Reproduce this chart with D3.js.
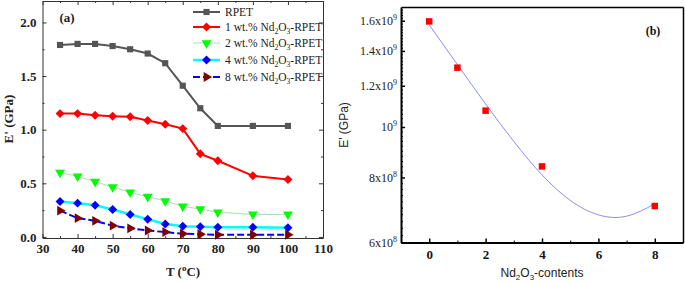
<!DOCTYPE html>
<html><head><meta charset="utf-8">
<script src="https://cdn.jsdelivr.net/npm/d3@7"></script>
<style>body{margin:0;background:#fff}svg{display:block}</style>
</head><body>
<svg id="c" width="685" height="283"></svg>
<script>
// ---- Panel (a) data ----
const temps = [35,40,45,50,55,60,65,70,75,80,90,100];
const rpet  = [1.79,1.80,1.80,1.78,1.75,1.71,1.62,1.41,1.20,1.035,1.035,1.035];
const nd1   = [1.15,1.15,1.135,1.125,1.12,1.085,1.05,1.01,0.775,0.71,0.57,0.535];
const nd2   = [0.60,0.565,0.515,0.465,0.415,0.375,0.335,0.285,0.26,0.23,0.21,0.21];
const nd4   = [0.33,0.315,0.295,0.255,0.21,0.165,0.12,0.10,0.095,0.09,0.09,0.085];
const nd8   = [0.245,0.175,0.15,0.105,0.08,0.06,0.045,0.03,0.025,0.02,0.02,0.02];
const seriesNames = ["RPET","1 wt.%","2 wt.%","4 wt.%","8 wt.%"];
const xTicksA = [30,40,50,60,70,80,90,100,110];
const yTicksA = [0,0.5,1.0,1.5,2.0];

// ---- Panel (b) data ----
const contents = [0,1,2,4,8];
const modulus  = [1.595e9,1.30e9,1.075e9,8.4e8,7.05e8];
const fitX = [0,1,2,3,4,5,6,7,8];
const fitY = [1.571e9,1.318e9,1.107e9,9.38e8,8.09e8,7.23e8,6.78e8,6.74e8,7.12e8];
const xTicksB = [0,2,4,6,8];
const yTicksB = [6e8,8e8,1e9,1.2e9,1.4e9,1.6e9];
const yTickLabelsB = [["6x10","8"],["8x10","8"],["10","9"],["1.2x10","9"],["1.4x10","9"],["1.6x10","9"]];

const svg = d3.select("#c");
const SERIF = "'Liberation Serif','Times New Roman',serif";
const SANS = "'Liberation Sans',Arial,sans-serif";

// ================= Panel (a) =================
const xA = d3.scaleLinear().domain([30,110]).range([42.5,323]);
const yA = d3.scaleLinear().domain([-0.01,2.2]).range([238,1]);
const gA = svg.append("g");

function styleAxis(g, col, w){
  g.select(".domain").attr("stroke", col).attr("stroke-width", w);
  g.selectAll(".tick line").attr("stroke", col).attr("stroke-width", 1);
}
const axColA = "#333";
// bottom
let ax = gA.append("g").attr("transform",`translate(0,${yA.range()[0]})`)
  .call(d3.axisBottom(xA).tickValues(xTicksA).tickSizeInner(-4).tickSizeOuter(0).tickPadding(6).tickFormat(d3.format("d")));
styleAxis(ax, axColA, 1);
ax.selectAll("text").attr("font-family",SERIF).attr("font-weight","bold").attr("font-size",13).attr("fill","#222");
gA.append("g").attr("transform",`translate(0,${yA.range()[0]})`)
  .call(d3.axisBottom(xA).tickValues(d3.range(35,110,10)).tickSize(-2).tickFormat("")).call(g=>styleAxis(g,axColA,0));
// top
ax = gA.append("g").attr("transform",`translate(0,${yA.range()[1]})`)
  .call(d3.axisTop(xA).tickValues(xTicksA).tickSizeInner(-4).tickSizeOuter(0).tickFormat(""));
styleAxis(ax, axColA, 1);
gA.append("g").attr("transform",`translate(0,${yA.range()[1]})`)
  .call(d3.axisTop(xA).tickValues(d3.range(35,110,10)).tickSize(-2).tickFormat("")).call(g=>styleAxis(g,axColA,0));
// left
ax = gA.append("g").attr("transform",`translate(${xA.range()[0]},0)`)
  .call(d3.axisLeft(yA).tickValues(yTicksA).tickSizeInner(-4).tickSizeOuter(0).tickPadding(6).tickFormat(d3.format(".1f")));
styleAxis(ax, axColA, 1);
ax.selectAll("text").attr("font-family",SERIF).attr("font-weight","bold").attr("font-size",13).attr("fill","#222");
gA.append("g").attr("transform",`translate(${xA.range()[0]},0)`)
  .call(d3.axisLeft(yA).tickValues([0.25,0.75,1.25,1.75]).tickSize(-2).tickFormat("")).call(g=>styleAxis(g,axColA,0));
// right
ax = gA.append("g").attr("transform",`translate(${xA.range()[1]},0)`)
  .call(d3.axisRight(yA).tickValues(yTicksA).tickSizeInner(-4).tickSizeOuter(0).tickFormat(""));
styleAxis(ax, axColA, 1);
gA.append("g").attr("transform",`translate(${xA.range()[1]},0)`)
  .call(d3.axisRight(yA).tickValues([0.25,0.75,1.25,1.75]).tickSize(-2).tickFormat("")).call(g=>styleAxis(g,axColA,0));

// series styles
const diamond = d3.symbol().type(d3.symbolSquare).size(40)();
const square = d3.symbol().type(d3.symbolSquare).size(38)();
const tri = d3.symbol().type(d3.symbolTriangle).size(42)();
const styles = [
  {data:rpet, line:"#555", lw:2, dash:null, mark:square, rot:0, fill:"#555"},
  {data:nd1,  line:"#ff0000", lw:2, dash:null, mark:diamond, rot:45, fill:"#ff0000"},
  {data:nd2,  line:"#a8e0a8", lw:1, dash:null, mark:tri, rot:180, fill:"#00ff00"},
  {data:nd4,  line:"#00ffff", lw:2.5, dash:null, mark:diamond, rot:45, fill:"#0000ff"},
  {data:nd8,  line:"#0000ff", lw:2, dash:"7,3", mark:tri, rot:90, fill:"#800000"}
];
const lineA = d3.line().x((d,i)=>xA(temps[i])).y(d=>yA(d));
styles.forEach(s=>{
  gA.append("path").attr("d",lineA(s.data)).attr("fill","none").attr("stroke",s.line)
    .attr("stroke-width",s.lw).attr("stroke-dasharray",s.dash);
});
styles.slice().reverse().forEach(s=>{
  gA.selectAll(null).data(s.data).enter().append("path").attr("d",s.mark)
    .attr("transform",(d,i)=>`translate(${xA(temps[i])},${yA(d)}) rotate(${s.rot})`)
    .attr("fill",s.fill);
});

// legend
const legY = [12,27,43,60,77];
styles.forEach((s,i)=>{
  const lg = gA.append("g").attr("transform",`translate(0,${legY[i]})`);
  lg.append("line").attr("x1",193).attr("x2",220).attr("stroke",s.line).attr("stroke-width",s.lw)
    .attr("stroke-dasharray",s.dash);
  lg.append("path").attr("d",s.mark).attr("transform",`translate(206.5,0) rotate(${s.rot})`).attr("fill",s.fill);
  const t = lg.append("text").attr("x",225).attr("y",4).attr("font-family",SERIF).attr("font-size",11.5).attr("fill","#222");
  if(i===0){ t.text(seriesNames[i]); }
  else {
    t.append("tspan").text(seriesNames[i]+" Nd");
    t.append("tspan").attr("dy",3).attr("font-size",7.5).text("2");
    t.append("tspan").attr("dy",-3).text("O");
    t.append("tspan").attr("dy",3).attr("font-size",7.5).text("3");
    t.append("tspan").attr("dy",-3).text("-RPET");
  }
});

gA.append("text").attr("x",67).attr("y",22).attr("text-anchor","middle").attr("font-family",SERIF)
  .attr("font-weight","bold").attr("font-size",13).attr("fill","#222").text("(a)");
// axis titles
const xt = gA.append("text").attr("x",183).attr("y",276).attr("text-anchor","middle").attr("font-family",SERIF)
  .attr("font-weight","bold").attr("font-size",13).attr("fill","#222");
xt.append("tspan").text("T (");
xt.append("tspan").attr("dy",-5).attr("font-size",9).text("o");
xt.append("tspan").attr("dy",5).text("C)");
gA.append("text").attr("transform","translate(13,119) rotate(-90)").attr("text-anchor","middle")
  .attr("font-family",SERIF).attr("font-weight","bold").attr("font-size",13).attr("fill","#222").text("E' (GPa)");

// ================= Panel (b) =================
const xB = d3.scaleLinear().domain([-1,9]).range([401,683]);
const yB = d3.scaleLog().domain([6e8,1.7e9]).range([242.5,7]);
const gB = svg.append("g");
// bottom
ax = gB.append("g").attr("transform",`translate(0,${yB.range()[0]})`)
  .call(d3.axisBottom(xB).tickValues(xTicksB).tickSizeInner(-4).tickSizeOuter(0).tickPadding(7).tickFormat(d3.format("d")));
styleAxis(ax,"#000",2);
ax.selectAll(".tick line").attr("stroke-width",1.5);
ax.selectAll("text").attr("font-family",SERIF).attr("font-weight","bold").attr("font-size",13).attr("fill","#111");
gB.append("g").attr("transform",`translate(0,${yB.range()[0]})`)
  .call(d3.axisBottom(xB).tickValues([1,3,5,7]).tickSize(-2).tickFormat("")).call(g=>styleAxis(g,"#000",0));
// left
ax = gB.append("g").attr("transform",`translate(${xB.range()[0]},0)`)
  .call(d3.axisLeft(yB).tickValues(yTicksB).tickSizeInner(-4).tickSizeOuter(0).tickPadding(4).tickFormat((d,i)=>""));
styleAxis(ax,"#000",2);
ax.selectAll(".tick line").attr("stroke-width",1.5);
ax.selectAll(".tick text").each(function(d,i){
  const t = d3.select(this).attr("font-family",SERIF).attr("font-size",12).attr("fill","#222");
  t.append("tspan").text(yTickLabelsB[i][0]);
  t.append("tspan").attr("dy",-5).attr("font-size",8).text(yTickLabelsB[i][1]);
});
gB.append("g").attr("transform",`translate(${xB.range()[0]},0)`)
  .call(d3.axisLeft(yB).tickValues(d3.range(6.2e8,1.7e9,2e7).filter(v=>!yTicksB.some(m=>Math.abs(m-v)<1e6))).tickSize(-2).tickFormat(""))
  .call(g=>styleAxis(g,"#000",0));
// top & right frame
gB.append("g").attr("transform",`translate(0,${yB.range()[1]})`)
  .call(d3.axisTop(xB).tickValues([]).tickSizeOuter(0)).call(g=>styleAxis(g,"#000",1.5));
gB.append("g").attr("transform",`translate(${xB.range()[1]},0)`)
  .call(d3.axisRight(yB).tickValues([]).tickSizeOuter(0)).call(g=>styleAxis(g,"#000",1.5));

// fit curve
const lineB = d3.line().x((d,i)=>xB(fitX[i])).y(d=>yB(d)).curve(d3.curveNatural);
gB.append("path").attr("d",lineB(fitY)).attr("fill","none").attr("stroke","#8c8cf5").attr("stroke-width",1);
// points
gB.selectAll(null).data(modulus).enter().append("rect")
  .attr("x",(d,i)=>xB(contents[i])-3.25).attr("y",d=>yB(d)-3.25).attr("width",6.5).attr("height",6.5).attr("fill","#ff0000");

gB.append("text").attr("x",653).attr("y",35).attr("text-anchor","middle").attr("font-family",SERIF)
  .attr("font-weight","bold").attr("font-size",12).attr("fill","#111").text("(b)");
const xtb = gB.append("text").attr("x",542).attr("y",277).attr("text-anchor","middle").attr("font-family",SANS)
  .attr("font-size",12).attr("fill","#222");
xtb.append("tspan").text("Nd");
xtb.append("tspan").attr("dy",3).attr("font-size",8).text("2");
xtb.append("tspan").attr("dy",-3).text("O");
xtb.append("tspan").attr("dy",3).attr("font-size",8).text("3");
xtb.append("tspan").attr("dy",-3).text("-contents");
gB.append("text").attr("transform","translate(348,125) rotate(-90)").attr("text-anchor","middle")
  .attr("font-family",SANS).attr("font-size",12).attr("fill","#222").text("E' (GPa)");
</script>
</body></html>
